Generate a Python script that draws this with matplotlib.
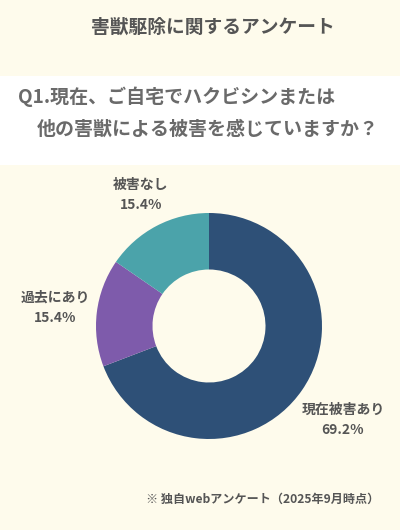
import matplotlib.pyplot as plt
from matplotlib.patches import Rectangle

plt.rcParams['font.family'] = ['Noto Sans CJK JP', 'DejaVu Sans']

labels = ["現在被害あり", "過去にあり", "被害なし"]
values = [69.2, 15.4, 15.4]
colors = ["#2E5077", "#7E5BAB", "#4BA3AA"]

title = "害獣駆除に関するアンケート"
question = ["Q1.現在、ご自宅でハクビシンまたは", "他の害獣による被害を感じていますか？"]
note = "※ 独自webアンケート（2025年9月時点）"

bg = "#FEFBEC"
text_color = "#555555"

fig = plt.figure(figsize=(4, 5.3), dpi=100, facecolor=bg)

# white question band
fig.patches.append(Rectangle((0, 1 - 165 / 530), 1, 89 / 530, transform=fig.transFigure,
                             facecolor="white", edgecolor="none", zorder=0))

fig.text(213 / 400, 1 - 27 / 530, title, ha="center", va="center",
         fontsize=13.5, fontweight="bold", color=text_color)
fig.text(18 / 400, 1 - 97 / 530, question[0], ha="left", va="center",
         fontsize=13.7, fontweight="bold", color="#6a6a6a")
fig.text(37 / 400, 1 - 129 / 530, question[1], ha="left", va="center",
         fontsize=13.7, fontweight="bold", color="#6a6a6a")

# donut
r = 113
ax = fig.add_axes([(209 - r) / 400, 1 - (326 + r) / 530, 2 * r / 400, 2 * r / 530])
ax.pie(values, colors=colors, startangle=90, counterclock=False,
       wedgeprops=dict(width=0.5, edgecolor="none"), radius=1)
ax.set_xlim(-1, 1)
ax.set_ylim(-1, 1)
ax.set_aspect("auto")
ax.axis("off")

label_pos = [(343, 410), (55, 298), (141, 185)]
for (x, y), lab, v in zip(label_pos, labels, values):
    fig.text(x / 400, 1 - y / 530, lab, ha="center", va="center",
             fontsize=10, fontweight="bold", color=text_color)
    fig.text(x / 400, 1 - (y + 20) / 530, f"{v}%", ha="center", va="center",
             fontsize=10, fontweight="bold", color=text_color)

fig.text(263 / 400, 1 - 499 / 530, note, ha="center", va="center",
         fontsize=8.7, fontweight="bold", color=text_color)

fig.savefig("out.png", dpi=100, facecolor=bg)
